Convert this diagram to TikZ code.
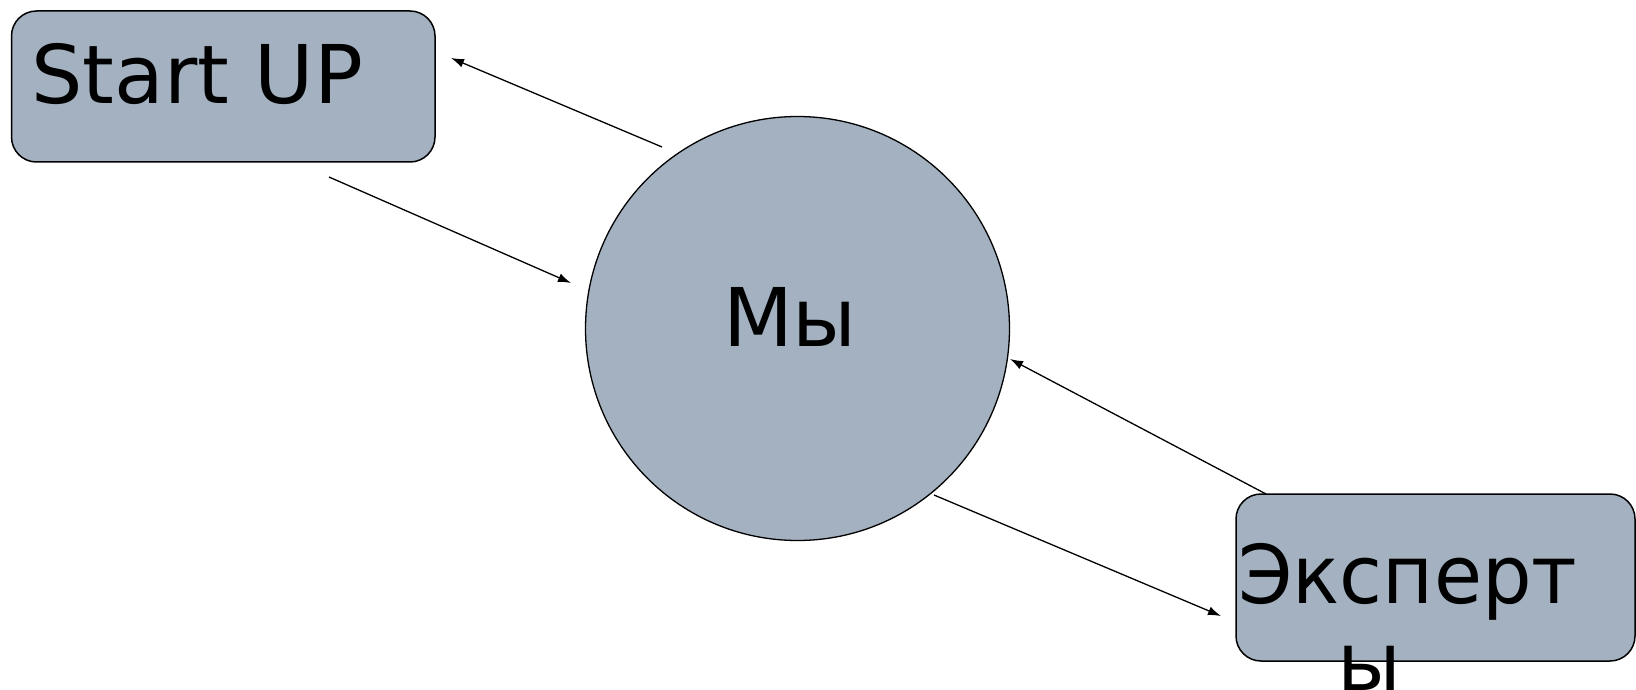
\documentclass[tikz,border=0pt]{standalone}
\usepackage{fontspec}
\setmainfont{DejaVu Sans}
\usetikzlibrary{arrows.meta}
\definecolor{boxfill}{RGB}{163,177,192}
\begin{document}
\begin{tikzpicture}[x=1pt,y=-1pt,
  shapebox/.style={draw=black,line width=1.5pt,fill=boxfill,rounded corners=25pt,
    rectangle,inner sep=0pt},
  bigtext/.style={font=\fontsize{81}{87}\selectfont,inner sep=0pt,text=black},
  conn/.style={draw=black,line width=1.3pt,-{Latex[length=13pt,width=9pt]}}]
\useasboundingbox (0,0) rectangle (1636,690);
% nodes
\node[shapebox,minimum width=423.5pt,minimum height=151pt] (start) at (223.25,86.5) {};
\node[bigtext,anchor=base west] (starttxt) at (31,104) {Start UP};
\node[draw=black,line width=1.3pt,fill=boxfill,circle,minimum size=424pt,inner sep=0pt] (we) at (797.5,328.5) {};
\node[bigtext,anchor=base] (wetxt) at (790,346) {Мы};
\node[shapebox,minimum width=399pt,minimum height=167pt] (exp) at (1435.5,577.5) {};
\node[bigtext,anchor=base west,xscale=0.965] (exptxt) at (1238,603) {Эксперт};
\node[bigtext,anchor=base] (exptxt2) at (1369,690) {ы};
% connector end points
\coordinate (a1s) at (662,147);
\coordinate (a1e) at (451,58);
\coordinate (a2s) at (329,177);
\coordinate (a2e) at (571,283);
\coordinate (a3s) at (1266,494);
\coordinate (a3e) at (1010,359);
\coordinate (a4s) at (934,495);
\coordinate (a4e) at (1221,616);
% connectors
\draw[conn] (a1s) -- (a1e);
\draw[conn] (a2s) -- (a2e);
\draw[conn] (a3s) -- (a3e);
\draw[conn] (a4s) -- (a4e);
\end{tikzpicture}
\end{document}
